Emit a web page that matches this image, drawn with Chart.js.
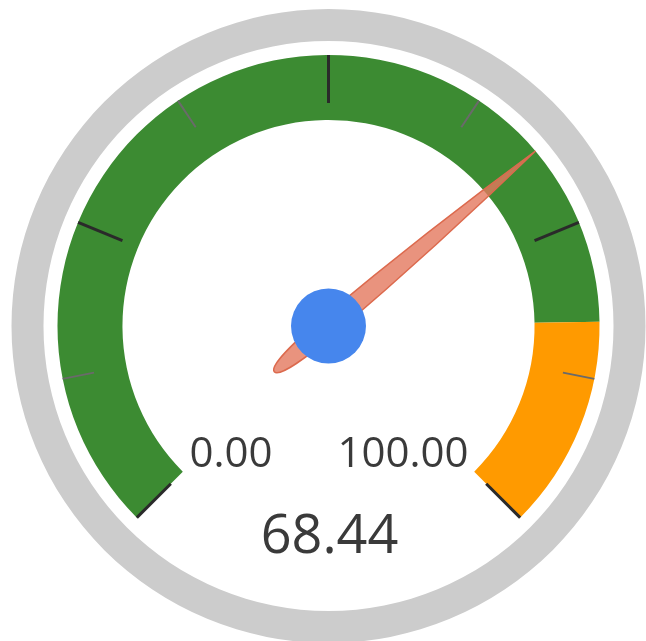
<!DOCTYPE html>
<html>
<head>
<meta charset="utf-8">
<title>Gauge</title>
<script src="https://cdn.jsdelivr.net/npm/chart.js@4/dist/chart.umd.min.js"></script>
<style>
  html, body { margin: 0; padding: 0; background: #fff; }
  #wrap { width: 646px; height: 641px; position: relative; }
</style>
</head>
<body>
<div id="wrap"><canvas id="gauge"></canvas></div>
<script>
const minValue = 0;
const maxValue = 100;
const needleValue = 68.44;
const bandValues = [83, 17];
const bandColors = ["#3c8b32", "#ff9a00"];
const majorTicks = [0, 25, 50, 75, 100];
const minorTicks = [12.5, 37.5, 62.5, 87.5];
const scaleLabels = [minValue.toFixed(2), maxValue.toFixed(2)];
const valueLabel = needleValue.toFixed(2);

const textFont = '"Open Sans", "Noto Sans", sans-serif';

// angle on the gauge band for a value, taken from the drawn arcs
function valueToAngle(arcs, value) {
  const start = arcs[0].startAngle;
  const end = arcs[arcs.length - 1].endAngle;
  return start + (value - minValue) / (maxValue - minValue) * (end - start);
}

function drawTick(ctx, cx, cy, angle, r1, r2, color, width) {
  ctx.beginPath();
  ctx.moveTo(cx + Math.cos(angle) * r1, cy + Math.sin(angle) * r1);
  ctx.lineTo(cx + Math.cos(angle) * r2, cy + Math.sin(angle) * r2);
  ctx.strokeStyle = color;
  ctx.lineWidth = width;
  ctx.stroke();
}

const gaugeDecor = {
  id: "gaugeDecor",
  afterDatasetsDraw(chart) {
    const ctx = chart.ctx;
    const arcs = chart.getDatasetMeta(2).data;
    const cx = arcs[0].x;
    const cy = arcs[0].y;
    const outer = arcs[0].outerRadius;

    ctx.save();
    ctx.lineCap = "butt";
    minorTicks.forEach(v => {
      drawTick(ctx, cx, cy, valueToAngle(arcs, v), outer, outer - 32, "#6a6a6a", 2);
    });
    majorTicks.forEach(v => {
      drawTick(ctx, cx, cy, valueToAngle(arcs, v), outer, outer - 48, "#2a2a2a", 3);
    });

    // needle
    const a = valueToAngle(arcs, needleValue);
    const tip = outer;
    const tail = 71;
    const half = 10;
    ctx.translate(cx, cy);
    ctx.rotate(a);
    ctx.beginPath();
    ctx.moveTo(tip, 0);
    ctx.quadraticCurveTo(tip * 0.5, half * 0.95, 0, half);
    ctx.bezierCurveTo(-tail * 0.55, half, -tail, half * 0.7, -tail, 0);
    ctx.bezierCurveTo(-tail, -half * 0.7, -tail * 0.55, -half, 0, -half);
    ctx.quadraticCurveTo(tip * 0.5, -half * 0.95, tip, 0);
    ctx.closePath();
    ctx.fillStyle = "rgba(228, 120, 94, 0.8)";
    ctx.fill();
    ctx.strokeStyle = "#dc6a4e";
    ctx.lineWidth = 1.5;
    ctx.stroke();
    ctx.setTransform(1, 0, 0, 1, 0, 0);

    // hub
    ctx.beginPath();
    ctx.arc(cx, cy, 37.5, 0, Math.PI * 2);
    ctx.fillStyle = "#4686ed";
    ctx.fill();

    // min / max and current value
    ctx.fillStyle = "#3a3a3a";
    ctx.textBaseline = "alphabetic";
    ctx.font = "42px " + textFont;
    ctx.textAlign = "left";
    ctx.fillText(scaleLabels[0], cx - 139, cy + 141);
    ctx.textAlign = "right";
    ctx.fillText(scaleLabels[1], cx + 140, cy + 141);
    ctx.font = "54px " + textFont;
    ctx.textAlign = "center";
    ctx.fillText(valueLabel, cx + 1, cy + 227);
    ctx.restore();
  }
};

new Chart(document.getElementById("gauge"), {
  type: "doughnut",
  data: {
    datasets: [
      {
        data: [maxValue - minValue],
        backgroundColor: ["#cccccc"],
        weight: 32,
        rotation: 0,
        circumference: 360
      },
      {
        data: [maxValue - minValue],
        backgroundColor: ["rgba(0,0,0,0)"],
        weight: 14,
        rotation: 0,
        circumference: 360
      },
      {
        data: bandValues,
        backgroundColor: bandColors,
        weight: 65,
        rotation: -135,
        circumference: 270
      }
    ]
  },
  options: {
    responsive: true,
    maintainAspectRatio: false,
    animation: false,
    events: [],
    radius: 317,
    cutout: "65%",
    borderWidth: 0,
    layout: {
      padding: { left: 11, top: 11, right: 0, bottom: 0 }
    },
    plugins: {
      legend: { display: false },
      tooltip: { enabled: false }
    }
  },
  plugins: [gaugeDecor]
});
</script>
</body>
</html>
